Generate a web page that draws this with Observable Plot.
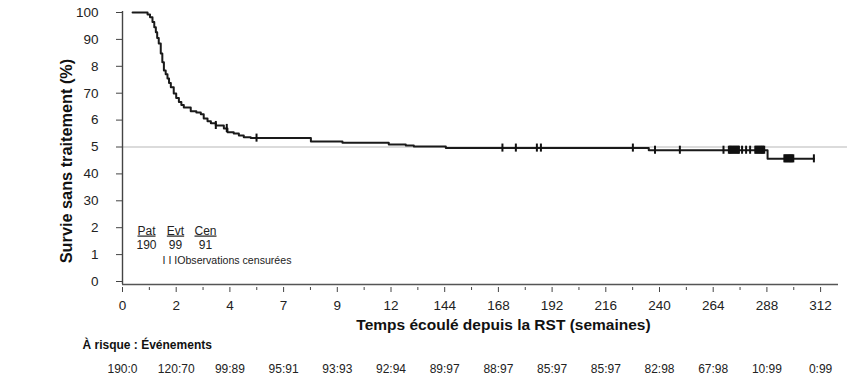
<!DOCTYPE html>
<html><head><meta charset="utf-8">
<script src="https://cdn.jsdelivr.net/npm/d3@7"></script>
<script src="https://cdn.jsdelivr.net/npm/@observablehq/plot@0.6"></script>
<style>body{margin:0;background:#fff;font-family:"Liberation Sans",Arial,sans-serif}</style>
</head><body><div id="chart"></div>
<script>
// Kaplan-Meier step curve (weeks, % event-free)
const times = [4.5, 11.2, 12.3, 13.4, 14.2, 14.9, 15.5, 16.2, 17.1, 17.8, 18.5, 19.3, 20.1, 20.8, 21.6, 22.9, 24.0, 25.2, 26.3, 27.4, 30.5, 33.0, 35.0, 36.3, 38.0, 39.5, 41.7, 45.3, 46.9, 49.7, 52.0, 54.2, 57.3, 84.2, 98.3, 119.0, 126.6, 130.2, 144.5, 235.2, 288.3, 309.0];
const survival = [100, 99.3, 98.2, 96.5, 94.5, 92.7, 90.5, 88.5, 84.8, 81.5, 78.4, 77.0, 75.5, 73.8, 72.2, 69.9, 68.2, 66.7, 65.6, 64.7, 63.3, 62.8, 62.2, 60.6, 59.6, 58.8, 58.0, 56.9, 55.5, 55.0, 54.3, 53.6, 53.3, 52.0, 51.6, 50.9, 50.6, 50.2, 49.6, 48.8, 45.6, 45.6];
const censorTimes = [41.7, 46.6, 59.9, 169.8, 175.8, 185.2, 187.0, 228.1, 238.0, 249.1, 268.6,
  271.0, 271.5, 272.0, 272.5, 273.0, 273.5, 274.0, 274.5, 275.0, 275.5, 276.9, 278.7, 280.5,
  282.8, 283.3, 283.8, 284.3, 284.8, 285.3, 285.8, 286.3, 286.8,
  295.8, 296.3, 296.8, 297.3, 297.8, 298.3, 298.8, 299.3, 299.8, 309.0];
const referenceLevel = [50];

const xTickValues = [0, 24, 48, 72, 96, 120, 144, 168, 192, 216, 240, 264, 288, 312];
const xTickLabels = ["0", "2", "4", "7", "9", "12", "144", "168", "192", "216", "240", "264", "288", "312"];
const xMinorTicks = [12, 36, 60, 84, 108, 132, 156, 180, 204, 228, 252, 276, 300];
const yTickValues = [0, 10, 20, 30, 40, 50, 60, 70, 80, 90, 100];
const yTickLabels = ["0", "1", "2", "30", "40", "5", "6", "70", "8", "90", "100"];
const riskLabels = ["190:0", "120:70", "99:89", "95:91", "93:93", "92:94", "89:97", "88:97", "85:97", "85:97", "82:98", "67:98", "10:99", "0:99"];
const legendHeads = ["Pat", "Evt", "Cen"];
const legendValues = ["190", "99", "91"];
const legendNote = ["I I IObservations censurées"];

const curve = times.map((t, i) => ({t, s: survival[i]}));
function survAt(t) {
  let s = survival[0];
  for (let i = 0; i < times.length; i++) if (times[i] <= t) s = survival[i];
  return s;
}
const censors = censorTimes.map(t => ({t, s: survAt(t)}));
const legendDx = [24, 53, 83];

const chart = Plot.plot({
  width: 850, height: 389,
  marginTop: 11, marginLeft: 122, marginRight: 12, marginBottom: 105,
  insetTop: 1, insetBottom: 3,
  x: {domain: [0, 320]},
  y: {domain: [0, 100]},
  style: {fontFamily: "'Liberation Sans', Arial, sans-serif", fontSize: "13px", color: "#222", background: "#fff"},
  marks: [
    Plot.ruleY(referenceLevel, {stroke: "#cfcfcf", strokeWidth: 1.6, x1: 0, x2: 324}),
    Plot.ruleX([0], {stroke: "#444", strokeWidth: 1.4}),
    Plot.ruleY([0], {dy: 3, stroke: "#555", strokeWidth: 1.4}),
    Plot.axisY(yTickValues, {tickSize: 6, tickPadding: 18, tickFormat: d => yTickLabels[yTickValues.indexOf(d)], label: null, fontSize: 13.5, stroke: "#444"}),
    Plot.axisX(xTickValues, {tickSize: 5, tickPadding: 8, tickFormat: d => xTickLabels[xTickValues.indexOf(d)], label: null, fontSize: 13.5, stroke: "#444", dy: 3}),
    Plot.axisX(xMinorTicks, {tickSize: 3, tickFormat: () => "", label: null, stroke: "#444", dy: 3}),
    Plot.line(curve, {x: "t", y: "s", curve: "step-after", stroke: "#1a1a1a", strokeWidth: 2}),
    Plot.ruleX(censors, {x: "t", y1: d => d.s - 1.5, y2: d => d.s + 1.5, stroke: "#111", strokeWidth: 2}),
    Plot.text(["Survie sans traitement (%)"], {frameAnchor: "left", textAnchor: "middle", rotate: -90, dx: -56, dy: 13, fontWeight: "bold", fontSize: 16.3, fill: "#111"}),
    Plot.text(["Temps écoulé depuis la RST (semaines)"], {frameAnchor: "bottom", dx: 23, dy: 45, fontWeight: "bold", fontSize: 15.5, fill: "#111"}),
    Plot.text(["À risque : Événements"], {frameAnchor: "bottom-left", dx: -40, dy: 64, textAnchor: "start", fontWeight: "bold", fontSize: 12, fill: "#111"}),
    Plot.text(riskLabels, {x: (d, i) => xTickValues[i], frameAnchor: "bottom", dy: 88, fontSize: 12, fill: "#222"}),
    ...legendHeads.map((h, i) => Plot.text([h], {frameAnchor: "bottom-left", textAnchor: "middle", dx: legendDx[i], dy: -50, fontSize: 12, fill: "#222"})),
    ...legendHeads.map((h, i) => Plot.text([legendValues[i]], {frameAnchor: "bottom-left", textAnchor: "middle", dx: legendDx[i], dy: -36, fontSize: 12, fill: "#222"})),
    Plot.text(legendNote, {frameAnchor: "bottom-left", textAnchor: "start", dx: 40, dy: -21, fontSize: 10.6, fill: "#222"})
  ]
});
d3.select(chart).selectAll("text").filter(function() { return legendHeads.includes(this.textContent); })
  .attr("text-decoration", "underline");
document.getElementById("chart").appendChild(chart);
</script></body></html>
